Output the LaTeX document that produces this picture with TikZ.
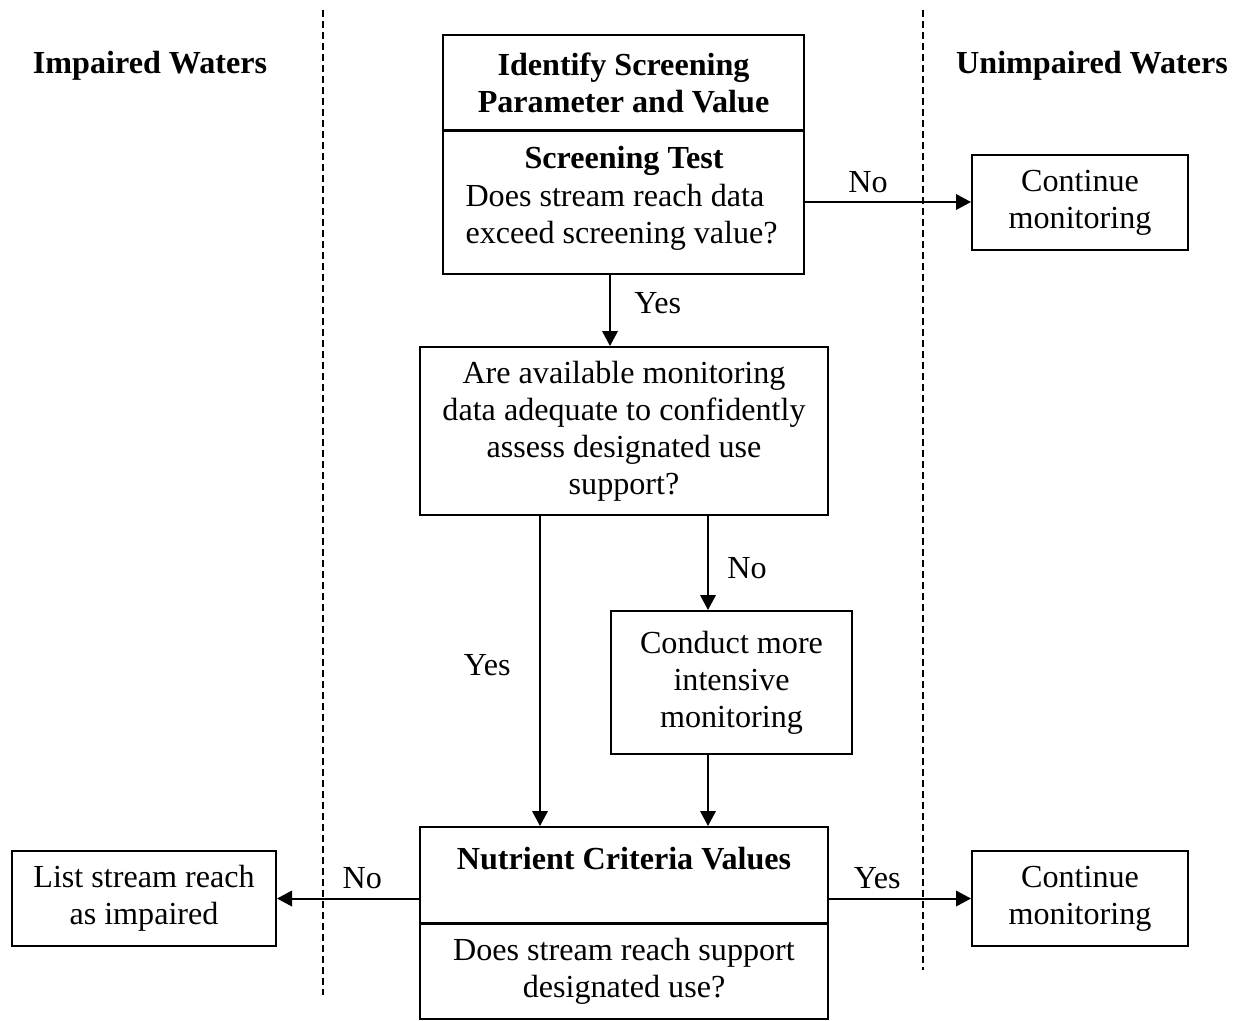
\documentclass[tikz,border=0pt]{standalone}
\usepackage{fontspec}
\setmainfont{Liberation Serif}
\usetikzlibrary{arrows.meta,calc}

\begin{document}
\begin{tikzpicture}[x=0.4pt, y=-0.4pt,
    font=\fontsize{12.85}{14.8}\selectfont,
    head/.style={font=\fontsize{12.85}{14.8}\selectfont\bfseries},
    box/.style={draw, line width=0.8pt, inner sep=0pt, align=center},
    lbl/.style={inner sep=0pt},
    arr/.style={-{Triangle[length=6pt,width=6.2pt]}, line width=0.8pt},
    divide/.style={dash pattern=on 2.8pt off 1.6pt, line width=0.6pt}]
    \useasboundingbox (0,0) rectangle (1237,1020);
    % Column lines
    \draw[divide] (323,10) -- (323,995);
    \draw[divide] (923,10) -- (923,970);
    % Column headings
    \node[head] (imp) at (150,66) {Impaired Waters};
    \node[head] (unimp) at (1092,66) {Unimpaired Waters};

    % Screening
    \node[box, head, minimum width=144.4pt, minimum height=38.4pt] (ident) at (623.5,83) {Identify Screening\\Parameter and Value};
    \node[box, minimum width=144.4pt, minimum height=57.6pt] (test) at (623.5,202) {};
    \node[head, lbl] (testt) at (624,161) {Screening Test};
    \node[lbl, align=left, anchor=west] (testq) at (465,217) {Does stream reach data\\exceed screening value?};
    \node[box, minimum width=86.4pt, minimum height=38pt] (cont) at (1080,202.5) {Continue\\monitoring};

    % Data check
    \node[box, minimum width=163.2pt, minimum height=67.2pt] (adeq) at (624,431) {Are available monitoring\\data adequate to confidently\\assess designated use\\support?};
    \node[box, minimum width=96.4pt, minimum height=57.2pt] (intens) at (731.5,682.5) {Conduct more\\intensive\\monitoring};

    % Criteria
    \node[box, minimum width=163.2pt, minimum height=38.4pt] (nutr) at (624,875) {};
    \node[head, lbl] (nutrt) at (624,859) {Nutrient Criteria Values};
    \node[box, minimum width=163.2pt, minimum height=38pt] (nutrq) at (624,971) {Does stream reach support\\designated use?};
    \node[box, minimum width=105.6pt, minimum height=38pt] (lst) at (144,898.5) {List stream reach\\as impaired};
    \node[box, minimum width=86.4pt, minimum height=38pt] (cont2) at (1080,898.5) {Continue\\monitoring};

    % Arrows
    \coordinate (yesX) at ($(test.south)+(-13.5,0)$);
    \coordinate (leftX) at ($(adeq.south)+(-84,0)$);
    \coordinate (noX) at ($(adeq.south)+(84,0)$);
    \draw[arr] (test.east) -- (test.east -| cont.west) node[above, pos=.38] (l1) {No};
    \draw[arr] (yesX) -- (yesX |- adeq.north) node[right, pos=.4, xshift=6pt] (l2) {Yes};
    \draw[arr] (leftX) -- (leftX |- nutr.north) node[left, pos=.48, xshift=-8pt] (l3) {Yes};
    \draw[arr] (noX) -- (noX |- intens.north) node[right, pos=.55, xshift=4pt] (l4) {No};
    \draw[arr] (noX |- intens.south) -- (noX |- nutr.north);
    \draw[arr] (lst.east -| nutr.west) -- (lst.east) node[above, pos=.4] (l5) {No};
    \draw[arr] (cont2.west -| nutr.east) -- (cont2.west) node[above, pos=.34] (l6) {Yes};
\end{tikzpicture}
\end{document}
